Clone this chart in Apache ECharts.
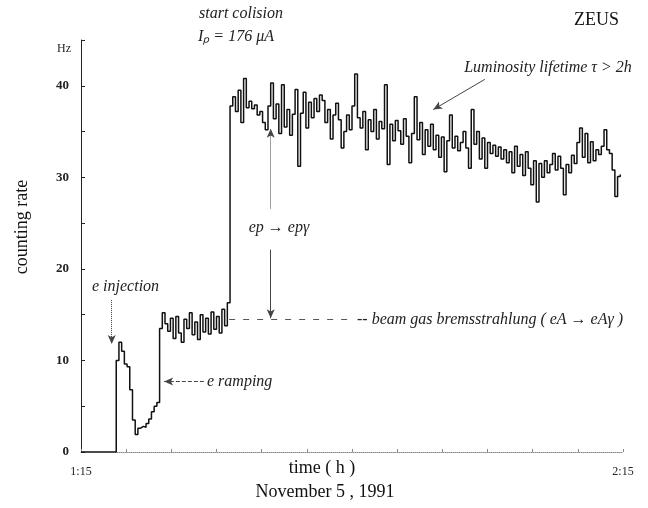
<!DOCTYPE html>
<html>
<head>
<meta charset="utf-8">
<script src="https://cdn.jsdelivr.net/npm/echarts@6/dist/echarts.min.js"></script>
<style>
  html, body { margin: 0; padding: 0; background: #fff; }
  #main { width: 648px; height: 508px; }
</style>
</head>
<body>
<div id="main"></div>
<script>
// time base: minutes after 1:15, one sample every 0.3 min
const startMinute = 0;
const stepMinutes = 0.3;
const axisMinutes = [0, 60];
const axisTimeLabels = ["1:15", "2:15"];
const rateTicks = [0, 10, 20, 30, 40];

// counting rate (Hz)
const rate = [
  0, 0, 0, 0, 0, 0, 0, 0, 0, 0, 0, 0, 0,
  10, 12, 11, 9.6, 9.3, 6.8, 3.5, 1.9, 2.6, 2.8,
  2.7, 3.1, 3.6, 4.4, 5.0, 5.4, 13.5, 15.2,
  14.0, 13.2, 14.6, 12.4, 14.8, 13.0, 12.0, 14.5, 13.5, 15.2,
  12.8, 14.2, 12.3, 15.0, 13.1, 14.6, 12.9, 15.3, 13.4, 14.8,
  13.0, 15.6, 13.8, 16.3,
  37.8, 38.8, 37.2, 39.5, 36.0, 40.8, 37.6, 38.3, 37.5, 37.9,
  36.8, 37.2, 36.0, 35.2, 37.8, 40.3, 36.4, 38.0, 34.8, 40.1,
  35.5, 37.4, 34.6, 36.9, 39.6, 31.2, 37.0, 39.3, 35.4, 38.2,
  36.5, 38.6, 37.2, 39.0, 38.4, 36.0, 37.4, 34.2, 36.8, 38.1,
  36.3, 33.2, 35.0, 36.8, 35.2, 37.8, 41.3, 36.5, 35.4, 37.2,
  33.0, 36.3, 35.0, 37.4, 34.2, 36.1, 35.3, 40.1, 31.4, 35.8,
  34.0, 36.2, 35.1, 33.6, 36.4, 34.5, 31.6, 34.8, 38.8, 34.1,
  36.0, 32.5, 35.2, 33.4, 35.8, 33.0, 34.6, 32.2, 34.4, 30.6,
  34.0, 36.8, 33.2, 34.5, 32.9, 33.8, 35.0, 33.2, 31.0, 37.4,
  33.6, 35.0, 32.0, 34.3, 31.0, 33.8, 32.6, 33.5, 32.3, 33.3,
  32.0, 33.0, 31.6, 32.8, 30.5, 33.4, 31.2, 32.5, 30.2, 32.8,
  31.0, 29.2, 31.8, 27.3, 31.5, 30.0, 31.8, 30.5, 31.4, 32.6,
  30.8, 32.3, 31.0, 28.1, 31.4, 30.5, 32.4, 31.5, 33.8, 35.4,
  32.2, 34.8, 31.6, 33.9, 31.8, 33.0, 32.5, 33.4, 35.2, 33.0,
  32.6, 30.8, 27.9, 30.1, 30.3
];

const serif = "Liberation Serif";
const note = { fontFamily: serif, fontStyle: "italic", fontSize: 16, fill: "#222" };

const chart = echarts.init(document.getElementById("main"));

const arrowLine = (from, to, type) => [
  { coord: from, lineStyle: { type: type, color: "#444", width: 1 } },
  { coord: to }
];

const option = {
  backgroundColor: "#fff",
  animation: false,
  grid: { left: 81, right: 25, top: 40, bottom: 56 },
  xAxis: {
    type: "value",
    min: axisMinutes[0],
    max: axisMinutes[1],
    interval: 5,
    axisLine: { lineStyle: { color: "#888", type: "dotted", width: 1 } },
    axisTick: { show: true, length: 3, inside: true, lineStyle: { color: "#888" } },
    axisLabel: {
      margin: 14,
      fontFamily: serif,
      fontSize: 12,
      color: "#222",
      formatter: (v) => {
        const k = axisMinutes.indexOf(v);
        return k >= 0 ? axisTimeLabels[k] : "";
      }
    },
    splitLine: { show: false }
  },
  yAxis: {
    type: "value",
    min: 0,
    max: 45,
    interval: 5,
    axisLine: { show: true, lineStyle: { color: "#222", width: 1 } },
    axisTick: { show: true, inside: true, length: 4, lineStyle: { color: "#222" } },
    axisLabel: {
      margin: 12,
      fontFamily: serif,
      fontSize: 13,
      fontWeight: "bold",
      color: "#222",
      formatter: (v) => (rateTicks.indexOf(v) >= 0 ? String(v) : "")
    },
    splitLine: { show: false }
  },
  series: [
    {
      type: "line",
      step: "end",
      showSymbol: false,
      lineStyle: { color: "#111", width: 1.5 },
      data: rate.map((v, i) => [startMinute + i * stepMinutes, v]),
      markLine: {
        silent: true,
        symbol: ["none", "arrow"],
        symbolSize: [6, 9],
        label: { show: false },
        data: [
          arrowLine([3.4, 16.6], [3.4, 11.8], "dotted"),
          arrowLine([21.0, 26.6], [21.0, 35.3], "dotted"),
          arrowLine([21.0, 22.1], [21.0, 14.6], "solid"),
          arrowLine([44.7, 40.7], [39.0, 37.4], "solid"),
          arrowLine([13.6, 7.7], [9.2, 7.7], "dashed"),
          [
            { coord: [16.4, 14.5], symbol: "none", lineStyle: { type: [6, 8], color: "#555", width: 1 } },
            { coord: [30.2, 14.5], symbol: "none" }
          ]
        ]
      }
    }
  ],
  graphic: [
    { type: "text", left: 574, top: 11, style: { text: "ZEUS", font: "18px " + serif, fill: "#111" } },
    { type: "text", x: 64, y: 49, style: { text: "Hz", fontFamily: serif, fontSize: 12, fill: "#222", align: "center", verticalAlign: "middle" } },
    { type: "text", x: 22, y: 227, rotation: Math.PI / 2, style: { text: "counting rate", fontFamily: serif, fontSize: 18, fill: "#111", align: "center", verticalAlign: "middle" } },
    { type: "text", x: 322, y: 468, style: { text: "time ( h )", fontFamily: serif, fontSize: 18, fill: "#111", align: "center", verticalAlign: "middle" } },
    { type: "text", x: 325, y: 492, style: { text: "November 5 , 1991", fontFamily: serif, fontSize: 18, fill: "#111", align: "center", verticalAlign: "middle" } },
    { type: "text", x: 241, y: 14, style: Object.assign({ text: "start colision", align: "center", verticalAlign: "middle" }, note) },
    { type: "text", x: 236, y: 37, style: Object.assign({ text: "Iₚ = 176 μA", align: "center", verticalAlign: "middle" }, note) },
    { type: "text", x: 548, y: 68, style: Object.assign({ text: "Luminosity lifetime τ > 2h", align: "center", verticalAlign: "middle" }, note) },
    { type: "text", x: 279, y: 228, style: Object.assign({ text: "ep → epγ", align: "center", verticalAlign: "middle" }, note) },
    { type: "text", x: 357, y: 320, style: Object.assign({ text: "-- beam gas bremsstrahlung ( eA → eAγ )", align: "left", verticalAlign: "middle" }, note) },
    { type: "text", x: 92, y: 287, style: Object.assign({ text: "e injection", align: "left", verticalAlign: "middle" }, note) },
    { type: "text", x: 207, y: 382, style: Object.assign({ text: "e ramping", align: "left", verticalAlign: "middle" }, note) }
  ]
};

chart.setOption(option);
</script>
</body>
</html>
